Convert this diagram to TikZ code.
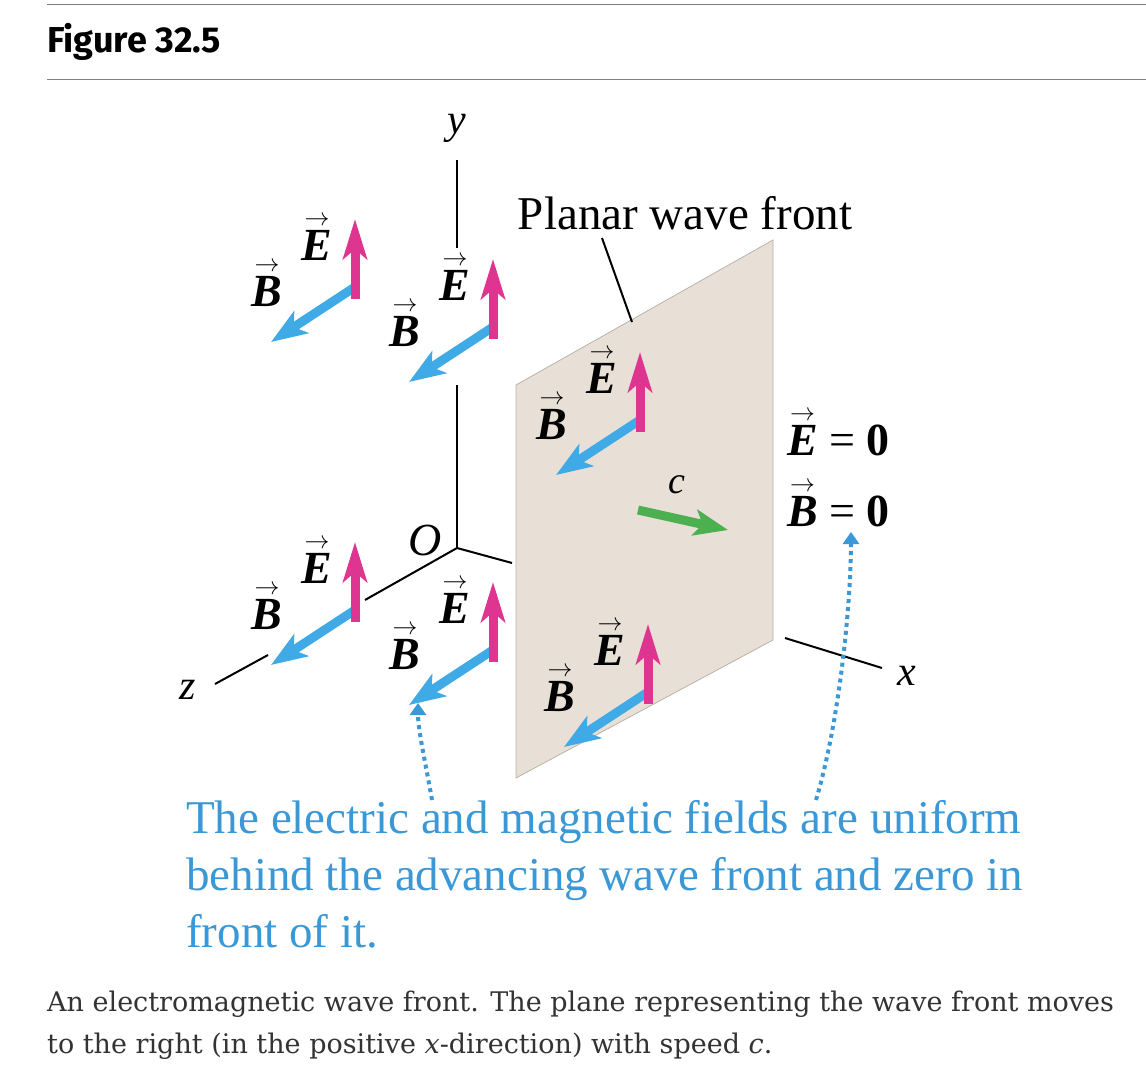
\documentclass[tikz,border=0pt]{standalone}
\usepackage{amsmath}
\usepackage{fontspec}
\setmainfont{Liberation Serif}
\newfontfamily\capfont{Fira Sans}
\newfontfamily\captxt{DejaVu Serif}
\usetikzlibrary{arrows.meta}
\definecolor{mag}{HTML}{DD3590}
\definecolor{cyn}{HTML}{40AAE6}
\definecolor{grn}{HTML}{4CAF50}
\definecolor{blu}{HTML}{3A98D6}
\definecolor{plane}{HTML}{E8DFD6}
\definecolor{capc}{HTML}{333333}
\newcommand{\vE}{$\overset{\scriptstyle\rightarrow}{\text{\textbf{\textit{E}}}}$}
\newcommand{\vB}{$\overset{\scriptstyle\rightarrow}{\text{\textbf{\textit{B}}}}$}
\tikzset{
 efield/.style={mag,line width=9pt,-{Stealth[length=40pt,width=24pt,inset=10pt]}},
 bfield/.style={cyn,line width=9pt,-{Stealth[length=36pt,width=26pt,inset=9pt]}},
 lab/.style={font=\fontsize{46}{46}\selectfont,inner sep=0pt},
 ax/.style={line width=2pt},
 dotarr/.style={blu,line width=4pt,dash pattern=on 4pt off 4pt,-{Triangle[length=12pt,width=16pt]}},
}
\newcommand{\pair}[3]{%
 \coordinate (#1) at (#2,#3);
 \coordinate (#1e) at (#2,#3-68);
 \coordinate (#1b) at (#2-84,#3+55);
 \draw[bfield] (#1) -- (#1b);
 \draw[efield] ([yshift=-12pt]#1) -- (#1e);
 \node[lab] (#1le) at (#2-38,#3-50) {\vE};
 \node[lab] (#1lb) at (#2-88,#3-4) {\vB};
}
\begin{document}
\begin{tikzpicture}[x=1pt,y=-1pt]
\useasboundingbox[fill=white] (0,0) rectangle (1146,1078);
\draw[line width=1pt,gray] (47,5) -- (1146,5);
\draw[line width=1pt,gray] (47,80) -- (1146,80);
\node[anchor=west,inner sep=0pt,font=\capfont\bfseries\fontsize{36}{36}\selectfont] (title) at (47,42) {Figure 32.5};
% axes
\coordinate (O) at (457,548);
\node[lab,font=\itshape\fontsize{42}{42}\selectfont] (ly) at (457,128) {y};
\draw[ax] (457,160) -- (457,248);
\draw[ax] (457,385) -- (O);
\draw[ax] (O) -- (365,600);
\draw[ax] (268,655) -- (215,684);
\node[lab,font=\itshape\fontsize{42}{42}\selectfont] (lz) at (188,690) {z};
\draw[ax] (O) -- (512,563);
\node[lab,font=\itshape\fontsize{46}{46}\selectfont] (lO) at (425,540) {O};
% plane
\draw[fill=plane,draw=plane!80!black,line width=0.8pt] (516,385) -- (773,240) -- (773,640) -- (516,778) -- cycle;
\draw[ax] (785,638) -- (882,668);
\node[lab,font=\itshape\fontsize{42}{42}\selectfont] (lx) at (907,676) {x};
\node[lab,font=\fontsize{47}{47}\selectfont] (pwf) at (685,213) {Planar wave front};
\draw[line width=2pt] (602,238) -- (632,322);
% field pairs
\pair{p1}{355}{287}
\pair{p2}{493}{327}
\pair{p3}{640}{420}
\pair{p4}{355}{610}
\pair{p5}{493}{650}
\pair{p6}{648}{692}
% c
\draw[grn,line width=9pt,-{Stealth[length=34pt,width=26pt,inset=8pt]}] (638,510) -- (728,530);
\node[lab,font=\itshape\fontsize{38}{38}\selectfont] (lc) at (677,485) {c};
\node[lab,anchor=west] (e0) at (787,432) {\vE{} = \textbf{0}};
\node[lab,anchor=west] (b0) at (787,503) {\vB{} = \textbf{0}};
% text
\node[anchor=north west,align=left,inner sep=0pt,text=blu,font=\fontsize{47}{57}\selectfont] (txt) at (186,800) {The electric and magnetic fields are uniform\\behind the advancing wave front and zero in\\front of it.};
\coordinate (s1) at (432,800);
\coordinate (t1) at (418,703);
\coordinate (s2) at (816,800);
\coordinate (t2) at (851,532);
\draw[dotarr] (s1) .. controls (425,760) and (418,730) .. (t1);
\draw[dotarr] (s2) .. controls (840,720) and (851,600) .. (t2);
\node[anchor=north west,align=left,inner sep=0pt,text=capc,font=\captxt\fontsize{27}{42}\selectfont] (cap) at (47,991) {An electromagnetic wave front. The plane representing the wave front moves\\to the right (in the positive \textit{x}-direction) with speed \textit{c}.};
\end{tikzpicture}
\end{document}
